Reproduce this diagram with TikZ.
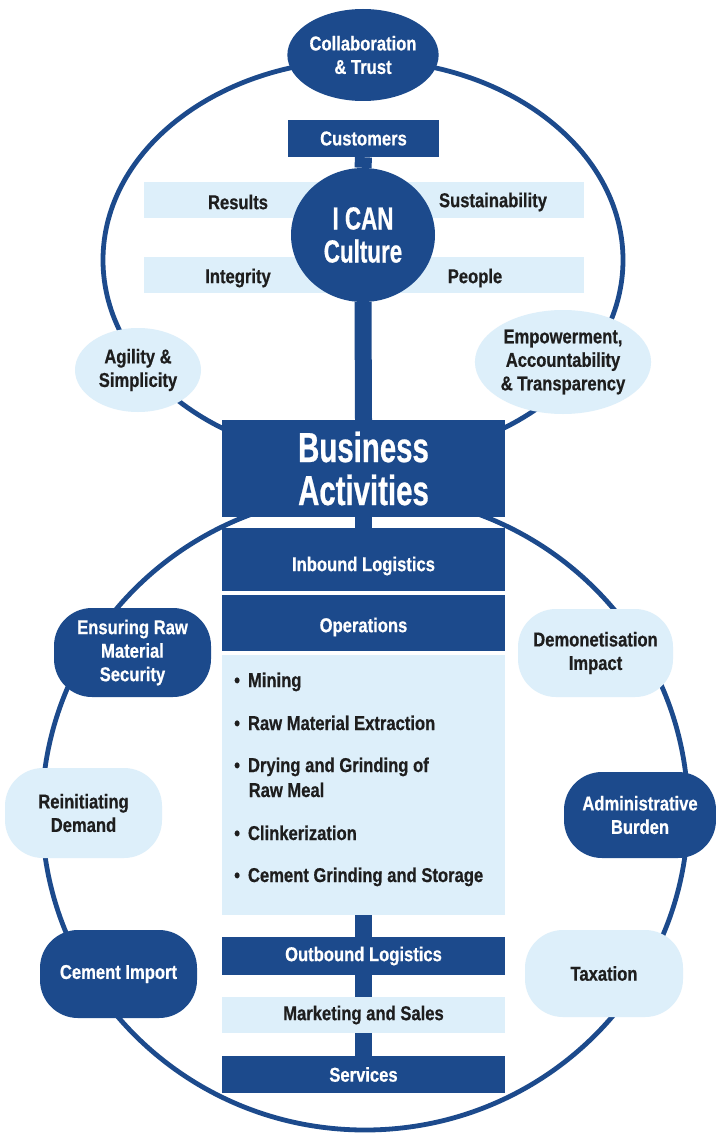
\documentclass[tikz,border=0pt]{standalone}
\usepackage{fontspec}
\setmainfont{Liberation Sans}[FakeStretch=0.83,BoldFeatures={FakeBold=0.6}]
\newfontfamily\bigfont{Liberation Sans}[FakeStretch=0.70,BoldFeatures={FakeBold=0.6}]
\usetikzlibrary{shapes.geometric}
\definecolor{dkblue}{RGB}{28,74,140}
\definecolor{ltblue}{RGB}{221,239,250}
\definecolor{txt}{RGB}{30,30,30}
\begin{document}
\begin{tikzpicture}[x=1pt,y=-1pt,
  sm/.style={font=\fontsize{20}{23.5}\selectfont\bfseries},
  dk/.style={fill=dkblue,text=white,draw=none},
  lt/.style={fill=ltblue,text=txt,draw=none},
  box/.style={rectangle,inner sep=0pt,align=center},
  oval/.style={ellipse,inner sep=0pt,align=center,sm},
  side/.style={rectangle,rounded corners=38pt,inner sep=0pt,align=center,sm},
  stem/.style={draw=dkblue,line width=17pt},
  ring/.style={draw=dkblue,line width=4.8pt},
  dtext/.style={sm,text=txt,inner sep=0pt},
  wtext/.style={sm,text=white,inner sep=0pt},
  bul/.style={sm,text=txt,inner sep=0pt,anchor=base west}]
\fill[white] (0,0) rectangle (715,1137);
\useasboundingbox (0,0) rectangle (715,1137);
% rings
\coordinate (uc) at (363,260);
\coordinate (lc) at (365,812);
\draw[ring] (uc) ellipse [x radius=260pt,y radius=200pt];
\draw[ring] (lc) ellipse [x radius=323pt,y radius=318pt];
% value bands
\node[box,lt,minimum width=440pt,minimum height=36pt] (band1) at (364,200) {};
\node[box,lt,minimum width=440pt,minimum height=36pt] (band2) at (364,275) {};
\node[dtext] (res) at (238,202) {Results};
\node[dtext] (sus) at (493,202) {Sustainability};
\node[dtext] (int) at (238,278) {Integrity};
\node[dtext] (peo) at (475,278) {People};
% top
\node[oval,dk,minimum width=136pt,minimum height=92pt] (collab) at (363,55) {Collaboration\\\& Trust};
\node[box,dk,sm,minimum width=151pt,minimum height=37pt] (cust) at (363.5,138.5) {Customers};
\node[ellipse,dk,inner sep=0pt,align=center,minimum width=144pt,minimum height=134pt,
  font=\bigfont\fontsize{32}{33}\selectfont\bfseries] (ican) at (363,235) {I CAN\\Culture};
\node[oval,lt,minimum width=126pt,minimum height=84pt] (agil) at (138,370) {Agility \&\\Simplicity};
\node[oval,lt,minimum width=176pt,minimum height=104pt] (emp) at (563,362) {Empowerment,\\Accountability\\\& Transparency};
% column
\node[box,dk,minimum width=283pt,minimum height=97pt,
  font=\bigfont\fontsize{42}{43}\selectfont\bfseries] (bus) at (363.5,468.5) {Business\\Activities};
\node[box,dk,minimum width=283pt,minimum height=63pt] (inb) at (363.5,559.5) {};
\node[wtext] (inbt) at (363.5,566) {Inbound Logistics};
\node[box,dk,minimum width=283pt,minimum height=56pt] (ops) at (363.5,623) {};
\node[wtext] (opst) at (363.5,627) {Operations};
\node[box,lt,minimum width=283pt,minimum height=260pt] (opl) at (363.5,785) {};
\node[bul] (b1) at (234,687) {•\hspace{8pt}Mining};
\node[bul] (b2) at (234,730) {•\hspace{8pt}Raw Material Extraction};
\node[bul] (b3) at (234,772) {•\hspace{8pt}Drying and Grinding of};
\node[bul] (b3b) at (248.5,797) {Raw Meal};
\node[bul] (b4) at (234,840) {•\hspace{8pt}Clinkerization};
\node[bul] (b5) at (234,882) {•\hspace{8pt}Cement Grinding and Storage};
\node[box,dk,sm,minimum width=283pt,minimum height=38pt] (outb) at (363.5,956) {Outbound Logistics};
\node[box,lt,sm,minimum width=283pt,minimum height=36pt] (mkt) at (363.5,1015) {Marketing and Sales};
\node[box,dk,sm,minimum width=283pt,minimum height=37pt] (serv) at (363.5,1074.5) {Services};
% stems
\draw[stem] (cust.south) -- (ican.north);
\draw[stem] (ican.south) -- (bus.north);
\draw[stem] (bus.south) -- (inb.north);
\draw[stem] (opl.south) -- (outb.north);
\draw[stem] (outb.south) -- (mkt.north);
\draw[stem] (mkt.south) -- (serv.north);
% side nodes
\node[side,dk,minimum width=157pt,minimum height=89pt] (raw) at (132.5,652.5) {Ensuring Raw\\Material\\Security};
\node[side,lt,minimum width=157pt,minimum height=90pt] (rein) at (83.5,813) {Reinitiating\\Demand};
\node[side,dk,minimum width=157pt,minimum height=88pt] (imp) at (118.5,974) {Cement Import};
\node[side,lt,minimum width=155pt,minimum height=88pt] (demo) at (595.5,653) {Demonetisation\\Impact};
\node[side,dk,minimum width=152pt,minimum height=86pt] (adm) at (640,815) {Administrative\\Burden};
\node[side,lt,minimum width=158pt,minimum height=87pt] (tax) at (604,973.5) {Taxation};
\end{tikzpicture}
\end{document}
